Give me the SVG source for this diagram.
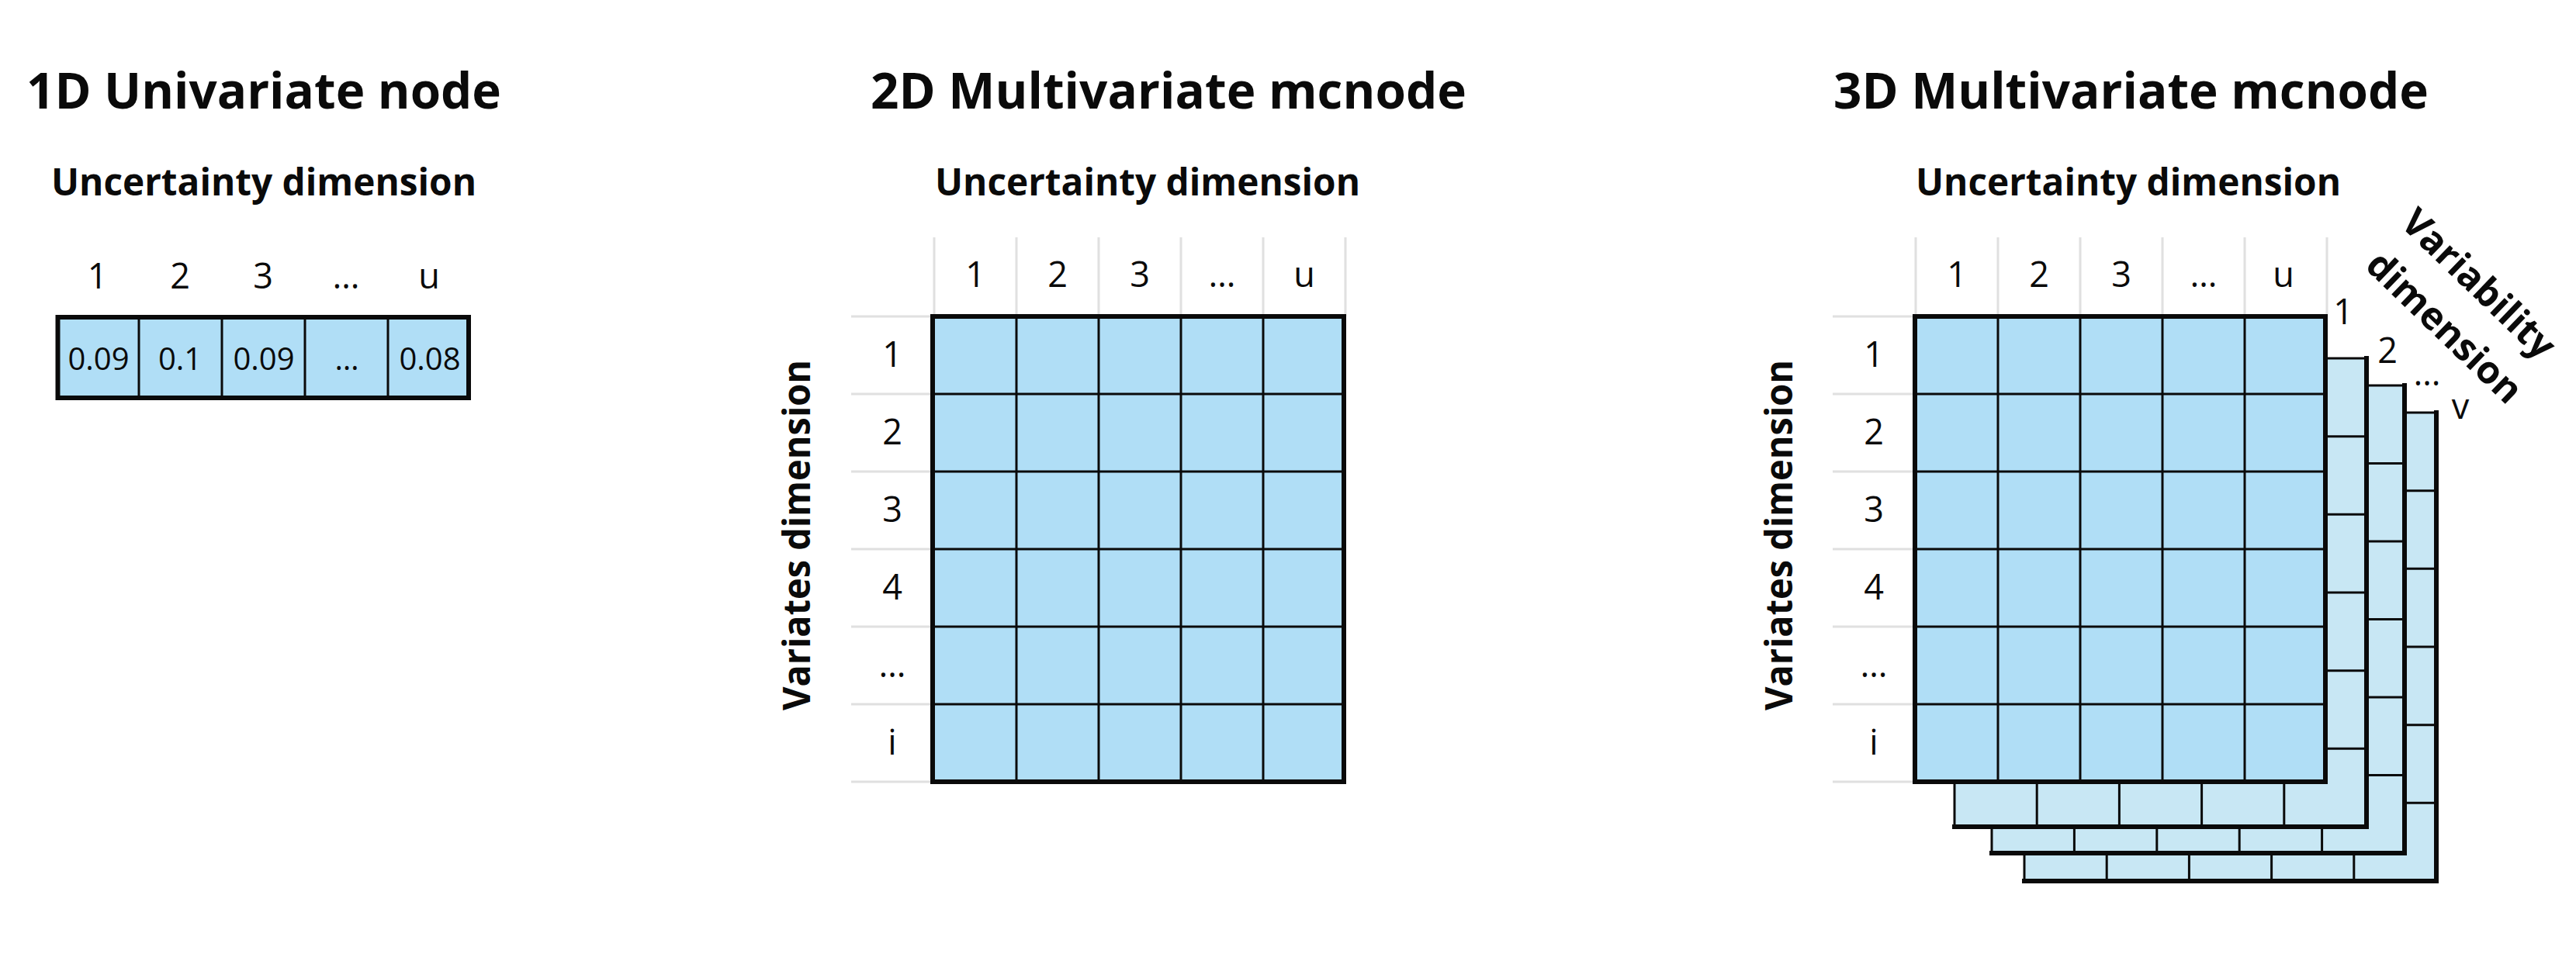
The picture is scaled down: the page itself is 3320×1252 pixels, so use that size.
<svg xmlns="http://www.w3.org/2000/svg" width="3320" height="1252" viewBox="0 0 3320 1252">
<style>
text{font-family:"Open Sans","Noto Sans","Liberation Sans",sans-serif;fill:#0a0a0a}
.title{font-weight:700;font-size:65px}
.sub{font-weight:700;font-size:48px}
.lbl{font-size:45px;text-anchor:middle}
.val{font-size:40px;text-anchor:middle}
.vdim{font-weight:700;font-size:49px;text-anchor:middle}
.cell{fill:#b0def6}
.sheet{fill:#c8e7f4}
.thin{stroke:#0a0a0a;stroke-width:3;fill:none}
.thick{stroke:#0a0a0a;stroke-width:6;fill:none}
.gray{stroke:#e0e0e0;stroke-width:3;fill:none}
</style>
<rect width="3320" height="1252" fill="#ffffff"/>

<!-- 1D node -->
<g id="node-1d">
<text class="title" x="34" y="140" textLength="612" lengthAdjust="spacingAndGlyphs">1D Univariate node</text>
<text class="sub" x="66" y="252" textLength="548" lengthAdjust="spacingAndGlyphs">Uncertainty dimension</text>
<text class="lbl" x="125.5" y="372">1</text>
<text class="lbl" x="232" y="372">2</text>
<text class="lbl" x="339" y="372">3</text>
<text class="lbl" x="446" y="372">…</text>
<text class="lbl" x="553" y="372">u</text>
<rect class="cell" x="74.5" y="409" width="529.5" height="104"/>
<path class="thin" d="M179 409V513M286 409V513M393 409V513M500 409V513"/>
<rect class="thick" x="74.5" y="409" width="529.5" height="104"/>
<text class="val" x="127" y="477">0.09</text>
<text class="val" x="232" y="477">0.1</text>
<text class="val" x="340" y="477">0.09</text>
<text class="val" x="447" y="477">…</text>
<text class="val" x="554" y="477">0.08</text>
</g>

<!-- 2D node -->
<g id="node-2d">
<text class="title" x="1122" y="140" textLength="768" lengthAdjust="spacingAndGlyphs">2D Multivariate mcnode</text>
<text class="sub" x="1205" y="252" textLength="548" lengthAdjust="spacingAndGlyphs">Uncertainty dimension</text>
<path class="gray" d="M1204 306V408M1310 306V408M1416 306V408M1522 306V408M1628 306V408M1734 306V408M1097 408H1202M1097 508H1202M1097 608H1202M1097 708H1202M1097 808H1202M1097 908H1202M1097 1008H1202"/>
<text class="lbl" x="1257" y="370">1</text>
<text class="lbl" x="1363" y="370">2</text>
<text class="lbl" x="1469" y="370">3</text>
<text class="lbl" x="1575" y="370">…</text>
<text class="lbl" x="1681" y="370">u</text>
<text class="lbl" x="1150" y="473">1</text>
<text class="lbl" x="1150" y="573">2</text>
<text class="lbl" x="1150" y="673">3</text>
<text class="lbl" x="1150" y="773">4</text>
<text class="lbl" x="1150" y="873">…</text>
<text class="lbl" x="1150" y="973">i</text>
<text class="vdim" transform="translate(1044,690) rotate(-90)" textLength="452" lengthAdjust="spacingAndGlyphs">Variates dimension</text>
<rect class="cell" x="1202" y="408" width="530" height="600"/>
<path class="thin" d="M1310 408V1008M1416 408V1008M1522 408V1008M1628 408V1008M1202 508H1732M1202 608H1732M1202 708H1732M1202 808H1732M1202 908H1732"/>
<rect class="thick" x="1202" y="408" width="530" height="600"/>
</g>

<!-- 3D node -->
<g id="node-3d">
<text class="title" x="2363" y="140" textLength="767" lengthAdjust="spacingAndGlyphs">3D Multivariate mcnode</text>
<text class="sub" x="2469" y="252" textLength="548" lengthAdjust="spacingAndGlyphs">Uncertainty dimension</text>
<path class="gray" d="M2469 306V408M2575 306V408M2681 306V408M2787 306V408M2893 306V408M2999 306V408M2362 408H2468M2362 508H2468M2362 608H2468M2362 708H2468M2362 808H2468M2362 908H2468M2362 1008H2468"/>
<text class="lbl" x="2522" y="370">1</text>
<text class="lbl" x="2628" y="370">2</text>
<text class="lbl" x="2734" y="370">3</text>
<text class="lbl" x="2840" y="370">…</text>
<text class="lbl" x="2943" y="370">u</text>
<text class="lbl" x="2415" y="473">1</text>
<text class="lbl" x="2415" y="573">2</text>
<text class="lbl" x="2415" y="673">3</text>
<text class="lbl" x="2415" y="773">4</text>
<text class="lbl" x="2415" y="873">…</text>
<text class="lbl" x="2415" y="973">i</text>
<text class="vdim" transform="translate(2310,690) rotate(-90)" textLength="452" lengthAdjust="spacingAndGlyphs">Variates dimension</text>
<text class="vdim" transform="translate(3183,378) rotate(44)">Variability</text>
<text class="vdim" transform="translate(3139,434) rotate(44)">dimension</text>
<text class="lbl" x="3020" y="418">1</text>
<text class="lbl" x="3077" y="468">2</text>
<text class="lbl" x="3128" y="497">…</text>
<text class="lbl" x="3171" y="540">v</text>

<!-- sheet v -->
<rect class="sheet" x="2609" y="532" width="531" height="604"/>
<path class="thin" d="M2609 532H3140M2609 532V1136M2715.2 532V1136M2821.4 532V1136M2927.6 532V1136M3033.8 532V1136M2609 632.7H3140M2609 733.3H3140M2609 834H3140M2609 934.7H3140M2609 1035.3H3140"/>
<path class="thick" d="M3140 529V1139M2606 1136H3143"/>
<!-- sheet 2 -->
<rect class="sheet" x="2567" y="497" width="532" height="603"/>
<path class="thin" d="M2567 497H3099M2567 497V1100M2673.4 497V1100M2779.8 497V1100M2886.2 497V1100M2992.6 497V1100M2567 597.5H3099M2567 698H3099M2567 798.5H3099M2567 899H3099M2567 999.5H3099"/>
<path class="thick" d="M3099 494V1103M2564 1100H3102"/>
<!-- sheet 1 -->
<rect class="sheet" x="2519" y="462" width="531" height="604"/>
<path class="thin" d="M2519 462H3050M2519 462V1066M2625.2 462V1066M2731.4 462V1066M2837.6 462V1066M2943.8 462V1066M2519 562.7H3050M2519 663.3H3050M2519 764H3050M2519 864.7H3050M2519 965.3H3050"/>
<path class="thick" d="M3050 459V1069M2516 1066H3053"/>

<!-- main grid -->
<rect class="cell" x="2468" y="408" width="529" height="600"/>
<path class="thin" d="M2575 408V1008M2681 408V1008M2787 408V1008M2893 408V1008M2468 508H2997M2468 608H2997M2468 708H2997M2468 808H2997M2468 908H2997"/>
<rect class="thick" x="2468" y="408" width="529" height="600"/>
</g>

<g id="connectors"/>
</svg>
